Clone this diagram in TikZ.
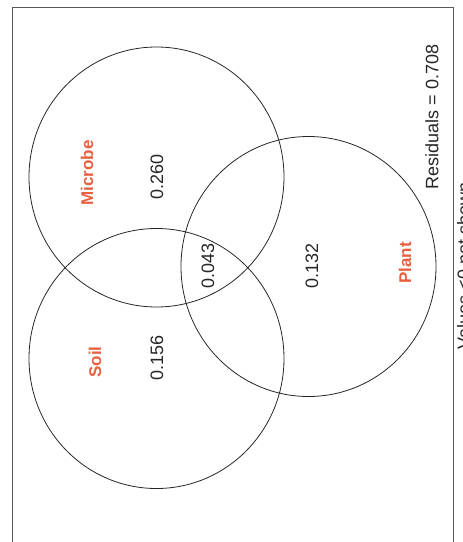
\documentclass[tikz,border=0pt]{standalone}
\usepackage{fontspec}
\setmainfont{Liberation Sans}
\usetikzlibrary{shapes.geometric}
\definecolor{labred}{RGB}{232,96,64}
\definecolor{framegray}{RGB}{90,90,90}
\tikzset{
  venn/.style={ellipse, draw=black!85, line width=0.8pt, minimum width=255pt, minimum height=260pt, inner sep=0pt},
  val/.style={rotate=90, inner sep=0pt, font=\fontsize{18}{20}\selectfont, text=black!85},
  setlab/.style={rotate=90, inner sep=0pt, font=\fontsize{17}{19}\selectfont\bfseries, text=labred},
  frameline/.style={line width=1pt}
}
\begin{document}
\begin{tikzpicture}[x=1pt,y=-1pt]
\useasboundingbox (0,0) rectangle (463,542);
\clip (0,0) rectangle (463,542);
% frame
\coordinate (fbl) at (12,545);
\coordinate (ftl) at (12,7.5);
\coordinate (ftr) at (453.5,7.5);
\coordinate (fbr) at (453.5,545);
\draw[frameline, draw=framegray] (fbl) -- (ftl) -- (ftr) -- (fbr);
% circles
\node[venn] (microbe) at (156.5,177) {};
\node[venn] (soil) at (156.5,358.5) {};
\node[venn] (plant) at (308.5,266.5) {};
% labels
\node[setlab] (lmicrobe) at (87,173) {Microbe};
\node[setlab] (lsoil) at (95,362) {Soil};
\node[setlab] (lplant) at (405,263) {Plant};
\node[val] (vmicrobe) at (157,177) {0.260};
\node[val] (vsoil) at (157,358) {0.156};
\node[val] (vall) at (208,266) {0.043};
\node[val] (vplant) at (312,266) {0.132};
\node[val] (resid) at (432,117) {Residuals = 0.708};
\node[val, anchor=base] (note) at (470,266) {Values <0 not shown};
\end{tikzpicture}
\end{document}
